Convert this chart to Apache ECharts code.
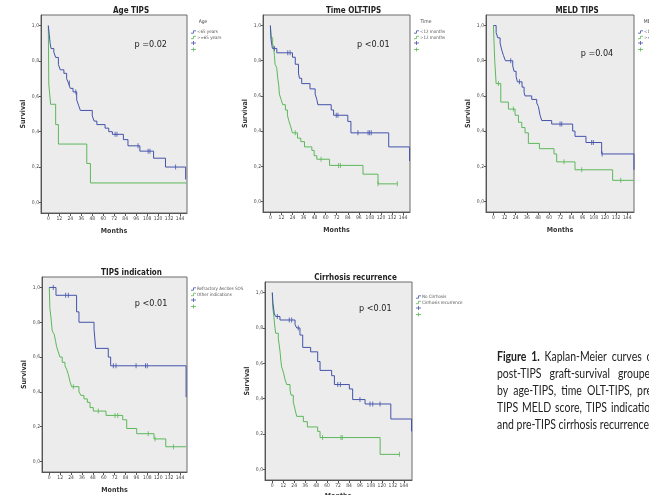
<!DOCTYPE html>
<html><head><meta charset="utf-8">
<script src="https://cdn.jsdelivr.net/npm/echarts@6/dist/echarts.min.js"></script>
<style>html,body{margin:0;padding:0;background:#fff}#c{width:649px;height:495px}</style>
</head><body><div id="c"></div>
<script>
// ---------- data ----------
const xTicks = [0, 12, 24, 36, 48, 60, 72, 84, 96, 108, 120, 132, 144];
const yTicks = [0, 0.2, 0.4, 0.6, 0.8, 1.0];

// Panel 1: Age TIPS
const ageLt65T = [0, 1, 2, 3, 6, 8, 11, 13, 17, 20, 22, 24, 27, 31, 33, 35, 48, 50, 53, 62, 66, 70, 82, 87, 100, 115, 128, 150];
const ageLt65S = [1, 0.95, 0.90, 0.87, 0.85, 0.82, 0.78, 0.75, 0.73, 0.70, 0.675, 0.645, 0.625, 0.58, 0.55, 0.52, 0.49, 0.46, 0.44, 0.42, 0.40, 0.385, 0.355, 0.32, 0.29, 0.25, 0.20, 0.13];
const ageLt65C = [23, 30, 73, 75, 98, 109, 111, 139];
const ageGe65T = [0, 0.5, 2.5, 8, 11, 42, 46, 151];
const ageGe65S = [1, 0.67, 0.555, 0.44, 0.33, 0.22, 0.11, 0.11];
const ageGe65C = [];

// Panel 2: Time OLT-TIPS
const timeLt12T = [0, 0.7, 2.2, 7, 24, 27, 30.5, 31.6, 34, 43, 48.6, 50.4, 51.5, 66, 68.6, 84, 87.4, 128.4, 151];
const timeLt12S = [1, 0.92, 0.87, 0.845, 0.82, 0.78, 0.73, 0.70, 0.67, 0.64, 0.61, 0.58, 0.55, 0.52, 0.49, 0.455, 0.39, 0.31, 0.23];
const timeLt12C = [4.4, 18.9, 21.4, 71.5, 73.3, 95, 106, 107.7, 109.5];
const timeGt12T = [0, 0.7, 1.5, 3.6, 4.4, 5.1, 6.9, 8, 9.1, 9.8, 11.6, 13.4, 16.3, 18.5, 19.9, 21.8, 23.9, 29.4, 33, 37, 45, 47.5, 50.4, 64.2, 100.5, 116.8, 137.8];
const timeGt12S = [1, 0.95, 0.92, 0.87, 0.83, 0.78, 0.76, 0.70, 0.66, 0.61, 0.58, 0.55, 0.52, 0.49, 0.46, 0.43, 0.39, 0.36, 0.34, 0.31, 0.29, 0.26, 0.24, 0.205, 0.155, 0.10, 0.10];
const timeGt12C = [2.5, 27, 55, 74, 76, 116.8, 137.8];

// Panel 3: MELD TIPS
const meldLoT = [0, 2.9, 4.7, 7.2, 9, 10.8, 12.9, 20.8, 22.2, 24.4, 25.8, 30.8, 33, 34, 41.2, 46.6, 48.4, 50.2, 52, 62.7, 85.3, 87.8, 99.6, 116.5, 151.3];
const meldLoS = [1, 0.96, 0.93, 0.90, 0.86, 0.83, 0.80, 0.77, 0.74, 0.71, 0.68, 0.65, 0.62, 0.60, 0.58, 0.56, 0.54, 0.49, 0.46, 0.44, 0.40, 0.37, 0.335, 0.27, 0.18];
const meldLoC = [18.6, 28, 71.7, 73.5, 105.7, 107.5, 117];
const meldHiT = [0, 1.4, 2.9, 7.9, 16.1, 23.3, 26.9, 30.5, 34, 37.6, 49.5, 65.2, 68.1, 87.8, 128.3, 151];
const meldHiS = [1, 0.80, 0.67, 0.565, 0.525, 0.49, 0.45, 0.42, 0.39, 0.33, 0.30, 0.27, 0.225, 0.18, 0.12, 0.12];
const meldHiC = [5.4, 21.5, 76, 95, 137];

// Panel 4: TIPS indication
const indRaT = [0, 7.4, 30.1, 32.7, 49.3, 51.1, 65, 67.6, 150.7];
const indRaS = [1, 0.955, 0.86, 0.80, 0.76, 0.65, 0.60, 0.55, 0.37];
const indRaC = [4.4, 18, 21, 70.6, 73.5, 95.6, 106, 108];
const indOtT = [0, 0.7, 1.8, 3.3, 5.5, 7, 8.1, 9.9, 11.8, 14.3, 17.3, 19.1, 21, 22.8, 24.6, 32.7, 34.9, 38.2, 41.9, 44.9, 48.5, 62.5, 80.9, 85.3, 96.3, 115.4, 128.3, 150.7];
const indOtS = [1, 0.88, 0.83, 0.75, 0.73, 0.69, 0.66, 0.63, 0.60, 0.57, 0.55, 0.53, 0.50, 0.46, 0.43, 0.40, 0.38, 0.36, 0.34, 0.31, 0.29, 0.265, 0.24, 0.19, 0.16, 0.13, 0.085, 0.085];
const indOtC = [26.5, 54, 72.4, 75.4, 109, 116.5, 136.8];

// Panel 5: Cirrhosis recurrence
const cirNoT = [0, 0.7, 2.2, 3.7, 8.4, 24.9, 26.7, 30.3, 33.3, 42, 49.7, 52.3, 65, 68, 84.4, 88, 101.6, 129.8, 152.5];
const cirNoS = [1, 0.94, 0.88, 0.865, 0.845, 0.82, 0.80, 0.76, 0.69, 0.665, 0.61, 0.56, 0.53, 0.48, 0.455, 0.395, 0.37, 0.285, 0.215];
const cirNoC = [5.5, 18.6, 21.2, 28.5, 71.7, 74.6, 96, 107, 110, 118];
const cirYesT = [0, 0.4, 1.8, 2.9, 3.7, 6.6, 8.4, 9.5, 10.2, 12.1, 13.9, 15.7, 19.4, 20.5, 23, 24.9, 26.7, 34, 38.4, 49.7, 52.3, 118.1, 139.3];
const cirYesS = [1, 0.92, 0.86, 0.80, 0.77, 0.74, 0.67, 0.61, 0.58, 0.55, 0.51, 0.48, 0.45, 0.42, 0.38, 0.34, 0.30, 0.27, 0.24, 0.215, 0.18, 0.085, 0.085];
const cirYesC = [55, 75.2, 76.7, 139.3];

const titles = ['Age TIPS', 'Time OLT-TIPS', 'MELD TIPS', 'TIPS indication', 'Cirrhosis recurrence'];
const pTexts = ['p =0.02', 'p <0.01', 'p =0.04', 'p <0.01', 'p <0.01'];
const legendTitles = ['Age', 'Time', 'MELD', '', ''];
const legendLabels = [
  ['<65 years', '>=65 years'],
  ['<12 months', '>12 months'],
  ['<15', '>=15'],
  ['Refractory Ascites SOS', 'Other indications'],
  ['No Cirrhosis', 'Cirrhosis recurrence']
];
const captionLines = [
  'Figure 1. Kaplan-Meier curves of',
  'post-TIPS graft-survival grouped',
  'by age-TIPS, time OLT-TIPS, pre-',
  'TIPS MELD score, TIPS indication',
  'and pre-TIPS cirrhosis recurrence.'
];

// ---------- layout / style ----------
const BLUE = '#4453aa', GREEN = '#5cb85a';
const NARROW = '"Liberation Sans Narrow","DejaVu Sans Condensed","Liberation Sans",Arial,sans-serif';
const grids = [
  {left: 41, top: 15, width: 146, height: 198, xmax: 151.5},
  {left: 263, top: 15, width: 147, height: 197, xmax: 151.5},
  {left: 486, top: 15, width: 148, height: 197, xmax: 151.3},
  {left: 42, top: 277, width: 145, height: 195, xmax: 151.7},
  {left: 265, top: 282, width: 147, height: 198, xmax: 153}
];
const curves = [
  [[ageLt65T, ageLt65S, ageLt65C], [ageGe65T, ageGe65S, ageGe65C]],
  [[timeLt12T, timeLt12S, timeLt12C], [timeGt12T, timeGt12S, timeGt12C]],
  [[meldLoT, meldLoS, meldLoC], [meldHiT, meldHiS, meldHiC]],
  [[indRaT, indRaS, indRaC], [indOtT, indOtS, indOtC]],
  [[cirNoT, cirNoS, cirNoC], [cirYesT, cirYesS, cirYesC]]
];

function pairs(t, s) { return t.map((v, i) => [v, s[i]]); }
function survAt(t, s, x) { let v = s[0]; for (let i = 0; i < t.length; i++) if (t[i] <= x) v = s[i]; return v; }

const option = {
  animation: false,
  backgroundColor: '#fff',
  grid: [], xAxis: [], yAxis: [], series: [], graphic: []
};

grids.forEach((g, i) => {
  option.grid.push({left: g.left, top: g.top, width: g.width, height: g.height, show: true,
    backgroundColor: '#ececec', borderColor: '#6a6a6a', borderWidth: 1});
  option.xAxis.push({
    type: 'value', gridIndex: i, min: -8, max: g.xmax,
    name: i === 4 ? '' : 'Months', nameLocation: 'middle', nameGap: 15,
    nameTextStyle: {fontSize: 7, fontWeight: 'bold', color: '#333', fontFamily: NARROW},
    axisLine: {show: true, onZero: false, lineStyle: {color: '#555', width: 1}},
    axisTick: {show: true, length: 3, customValues: xTicks, lineStyle: {color: '#555'}},
    axisLabel: {customValues: xTicks, fontSize: 5, margin: 3, color: '#444', fontFamily: NARROW},
    splitLine: {show: false}
  });
  option.yAxis.push({
    type: 'value', gridIndex: i, min: -0.06, max: 1.06,
    name: 'Survival', nameLocation: 'middle', nameGap: 14, nameRotate: 90,
    nameTextStyle: {fontSize: 7, fontWeight: 'bold', color: '#333', fontFamily: NARROW},
    axisLine: {show: true, onZero: false, lineStyle: {color: '#555', width: 1}},
    axisTick: {show: true, length: 2, customValues: yTicks, lineStyle: {color: '#555'}},
    axisLabel: {customValues: yTicks, fontSize: 5, margin: 2, color: '#444', fontFamily: NARROW,
      formatter: v => v.toFixed(1).replace('.', ',')},
    splitLine: {show: false}
  });
  curves[i].forEach((c, k) => {
    const col = k === 0 ? BLUE : GREEN;
    option.series.push({
      type: 'line', xAxisIndex: i, yAxisIndex: i, step: 'end', showSymbol: false,
      data: pairs(c[0], c[1]), lineStyle: {color: col, width: 1}, z: 3 - k, silent: true
    });
    option.series.push({
      type: 'scatter', xAxisIndex: i, yAxisIndex: i, symbol: 'rect', symbolSize: [1, 5],
      itemStyle: {color: col}, data: c[2].map(x => [x, survAt(c[0], c[1], x)]), z: 4, silent: true
    });
  });

  // title & p-value
  const cx = g.left + g.width / 2 + 17;
  option.graphic.push({type: 'text', x: cx, y: g.top - 4, style: {text: titles[i], font: 'bold 8px ' + NARROW,
    fill: '#222', align: 'center', verticalAlign: 'middle'}});
  option.graphic.push({type: 'text', x: g.left + g.width * 0.64, y: g.top + (i === 0 || i === 1 ? 30 : (i === 2 ? 39 : 27)),
    style: {text: pTexts[i], font: '9px ' + NARROW, fill: '#222', align: 'left', verticalAlign: 'middle'}});

  // legend
  const lx = g.left + g.width + 4;
  const ly = g.top + (legendTitles[i] ? 17 : 12) + (i === 4 ? 3 : 0);
  if (legendTitles[i]) {
    option.graphic.push({type: 'text', x: lx + 12, y: g.top + 7, style: {text: legendTitles[i], font: '5px ' + NARROW,
      fill: '#444', align: 'center', verticalAlign: 'middle'}});
  }
  [BLUE, GREEN].forEach((col, k) => {
    const yy = ly + k * 5.5;
    option.graphic.push({type: 'polyline', shape: {points: [[lx, yy + 1.2], [lx + 2.5, yy + 1.2], [lx + 2.5, yy - 1.2], [lx + 5, yy - 1.2]]},
      style: {stroke: col, lineWidth: 0.8, fill: null}});
    option.graphic.push({type: 'text', x: lx + 6, y: yy, style: {text: legendLabels[i][k], font: '4.5px ' + NARROW,
      fill: '#555', align: 'left', verticalAlign: 'middle'}});
    const py = ly + 11 + k * 6.5;
    option.graphic.push({type: 'polyline', shape: {points: [[lx, py], [lx + 5, py]]}, style: {stroke: col, lineWidth: 0.8, fill: null}});
    option.graphic.push({type: 'polyline', shape: {points: [[lx + 2.5, py - 2], [lx + 2.5, py + 2]]}, style: {stroke: col, lineWidth: 0.8, fill: null}});
  });
});

// bottom-right panel's x-axis name (cut at image bottom)
option.graphic.push({type: 'text', x: 338, y: 496, style: {text: 'Months', font: 'bold 7px ' + NARROW, fill: '#333', align: 'center', verticalAlign: 'middle'}});

// caption: justified lines, words placed with a horizontal squeeze (narrow face)
const CAPF = 'Lato, "Open Sans", sans-serif';
const mctx = document.createElement('canvas').getContext('2d');
function wordW(w, bold) { mctx.font = (bold ? 'bold ' : '') + '13px ' + CAPF; return mctx.measureText(w).width; }
const capScale = 152 / wordW('and pre-TIPS cirrhosis recurrence', false);
const CAP_X = 497, CAP_W = 159, CAP_Y0 = 357, CAP_DY = 17;
captionLines.forEach((line, li) => {
  const words = line.split(' ');
  const bolds = words.map((w, k) => li === 0 && k < 2);
  const ws = words.map((w, k) => wordW(w, bolds[k]) * capScale);
  const justify = li < captionLines.length - 1;
  const gap = justify ? (CAP_W - ws.reduce((a, b) => a + b, 0)) / (words.length - 1) : wordW(' ', false) * capScale;
  let x = CAP_X;
  words.forEach((w, k) => {
    option.graphic.push({type: 'text', x: x, y: CAP_Y0 + CAP_DY * li, scaleX: capScale,
      style: {text: w, font: (bolds[k] ? 'bold ' : '') + '13px ' + CAPF, fill: '#222', align: 'left', verticalAlign: 'middle'}});
    x += ws[k] + gap;
  });
});

const chart = echarts.init(document.getElementById('c'), null, {renderer: 'canvas'});
chart.setOption(option);
</script></body></html>
